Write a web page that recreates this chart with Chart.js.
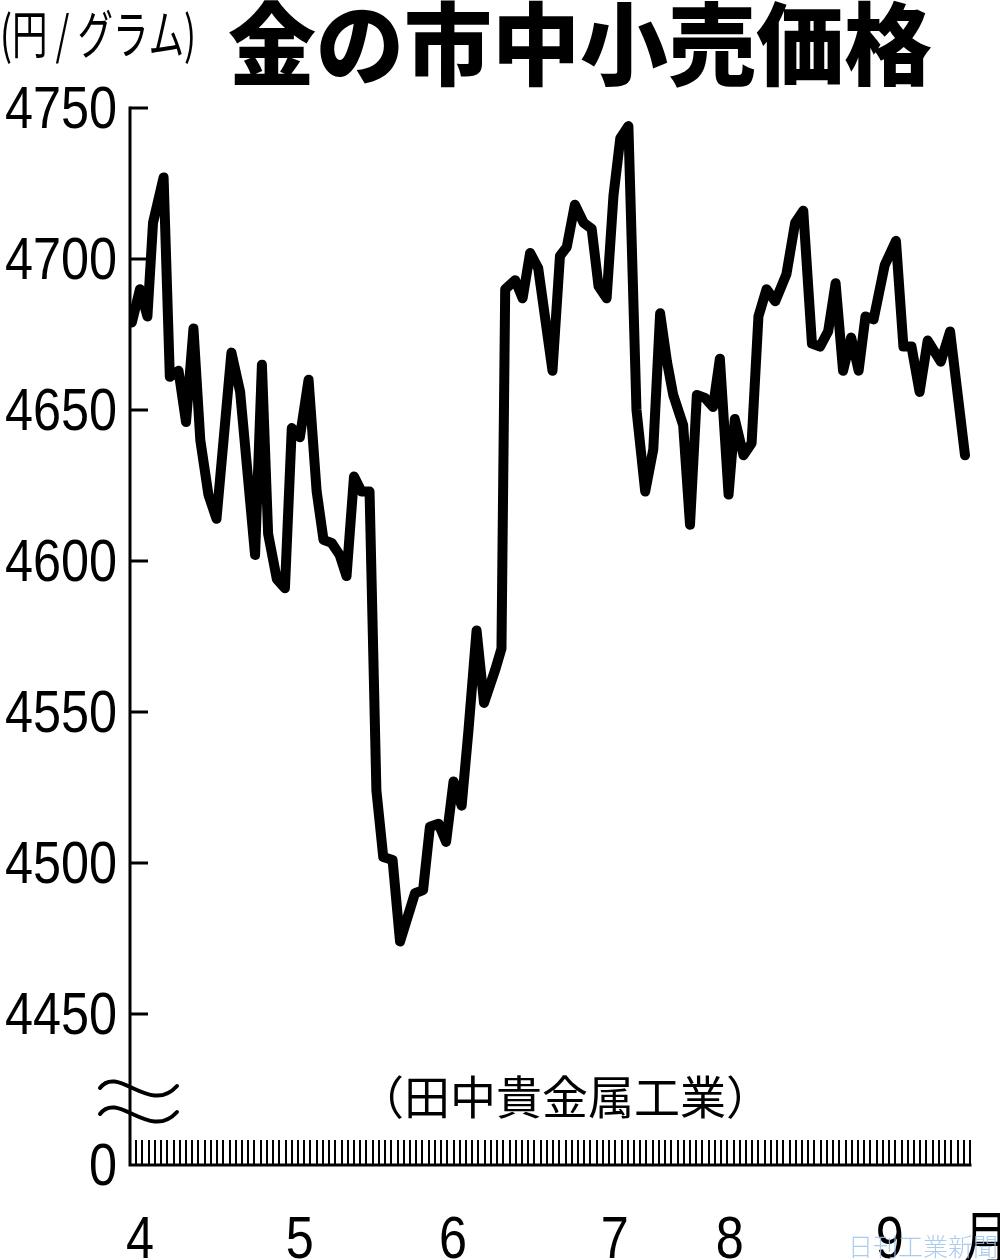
<!DOCTYPE html>
<html><head><meta charset="utf-8">
<script src="https://cdn.jsdelivr.net/npm/chart.js@4/dist/chart.umd.min.js"></script>
<style>html,body{margin:0;padding:0;background:#fff;}#wrap{width:1000px;height:1260px;position:relative;}</style>
</head><body><div id="wrap"><canvas id="c" width="1000" height="1260"></canvas></div>
<script>
// ---- data (x = trading-day position from 1 April, y = yen per gram) ----
const tradingDays = [0.3,1.6,2.8,3.7,5.4,6.4,7.8,9.0,10.2,11.3,12.6,13.9,16.3,17.7,20.1,21.2,22.2,23.6,24.9,26.0,
  27.3,28.7,30.0,31.1,32.4,33.7,34.8,36.0,37.2,38.5,39.6,40.7,42.2,43.4,45.8,47.1,48.2,49.6,50.8,52.0,
  53.3,54.4,55.7,56.9,58.7,59.7,60.3,61.9,63.1,64.3,65.6,67.9,69.1,70.2,71.5,72.9,74.2,75.3,76.6,77.7,
  78.8,80.1,81.4,82.8,84.1,85.2,86.3,87.3,88.9,90.0,91.1,92.4,93.7,94.8,96.2,97.2,98.6,99.9,101.0,102.3,
  103.7,105.5,106.9,108.2,109.6,110.9,112.2,113.4,114.6,115.9,117.1,118.2,119.5,121.3,123.1,124.3,125.6,126.9,128.2,130.3,
  131.8,134.2];
const prices = [4679,4690,4681,4712,4727,4661,4663,4646,4677,4640,4622,4614,4669,4656,4602,4665,4609,4594,4591,4644,
  4641,4660,4623,4607,4606,4602,4595,4628,4623,4623,4524,4502,4501,4474,4490,4491,4512,4513,4507,4527,
  4519,4544,4577,4553,4564,4571,4690,4693,4687,4702,4697,4663,4701,4704,4718,4712,4710,4691,4687,4721,
  4740,4744,4650,4623,4637,4682,4666,4655,4645,4612,4655,4654,4651,4667,4622,4647,4635,4639,4681,4690,
  4686,4695,4712,4716,4672,4671,4676,4692,4663,4674,4663,4681,4680,4698,4706,4671,4671,4656,4673,4666,
  4676,4635];
const yTickValues = [4400,4450,4500,4550,4600,4650,4700,4750];
const yTickLabels = ['0','4450','4500','4550','4600','4650','4700','4750'];
const monthPositions = [1.6,27.3,51.9,77.9,96.4,122.1];
const monthLabels = ['4','5','6','7','8','9'];
const monthUnit = '月';
const dayTickCount = 135;
const titleText = '金の市中小売価格';
const unitText = '(円 / グラム)';
const sourceText = '（田中貴金属工業）';
const creditText = '日刊工業新聞';

const NUM_FONT = '"Liberation Sans", Arial, sans-serif';
const JP_FONT = '"Noto Sans CJK JP", "Noto Sans CJK SC", sans-serif';

function drawText(ctx, text, x, y, font, align, baseline, sx, color){
  ctx.save();
  ctx.font = font; ctx.fillStyle = color || '#000';
  ctx.textAlign = align; ctx.textBaseline = baseline;
  ctx.translate(x, y); ctx.scale(sx, 1);
  ctx.fillText(text, 0, 0);
  ctx.restore();
}
function drawFitText(ctx, text, left, width, y, font, baseline, color){
  ctx.save();
  ctx.font = font;
  const w = ctx.measureText(text).width;
  const sx = width / w;
  ctx.fillStyle = color || '#000'; ctx.textAlign = 'left'; ctx.textBaseline = baseline;
  ctx.translate(left, y); ctx.scale(sx, 1);
  ctx.fillText(text, 0, 0);
  ctx.restore();
}

const axesPlugin = {
  id: 'axesPlugin',
  beforeDatasetsDraw(chart){
    const ctx = chart.ctx, xs = chart.scales.x, ys = chart.scales.y;
    const left = xs.getPixelForValue(0), right = xs.getPixelForValue(dayTickCount);
    const top = ys.getPixelForValue(yTickValues[yTickValues.length-1]);
    const bottom = ys.getPixelForValue(yTickValues[0]);
    ctx.save();
    ctx.strokeStyle = '#000';
    ctx.lineWidth = 3; ctx.lineCap = 'square';
    ctx.beginPath(); ctx.moveTo(left, top); ctx.lineTo(left, bottom); ctx.lineTo(right, bottom); ctx.stroke();
    ctx.lineCap = 'butt';
    ctx.beginPath();
    for (let i = 1; i < yTickValues.length; i++){
      const y = ys.getPixelForValue(yTickValues[i]);
      ctx.moveTo(left, y); ctx.lineTo(left + 18, y);
    }
    ctx.stroke();
    ctx.lineWidth = 2;
    ctx.beginPath();
    for (let d = 1; d <= dayTickCount; d++){
      const x = Math.round(xs.getPixelForValue(d));
      ctx.moveTo(x, bottom); ctx.lineTo(x, bottom - 25);
    }
    ctx.stroke();
    ctx.lineWidth = 4; ctx.lineCap = 'round';
    [0, 26].forEach(off => {
      ctx.beginPath();
      ctx.moveTo(left - 30, 1088 + off);
      ctx.bezierCurveTo(left - 12, 1064 + off, left + 20, 1116 + off, left + 47, 1086 + off);
      ctx.stroke();
    });
    ctx.restore();
  },
  afterDraw(chart){
    const ctx = chart.ctx, xs = chart.scales.x, ys = chart.scales.y;
    const left = xs.getPixelForValue(0);
    yTickValues.forEach((v, i) => {
      const y = ys.getPixelForValue(v);
      drawText(ctx, yTickLabels[i], left - 13, y + 20, '60px ' + NUM_FONT, 'right', 'alphabetic', 0.84);
    });
    monthPositions.forEach((d, i) => {
      drawText(ctx, monthLabels[i], xs.getPixelForValue(d), 1258, '60px ' + NUM_FONT, 'center', 'alphabetic', 0.84);
    });
    drawText(ctx, monthUnit, 963, 1237, '58px ' + JP_FONT, 'left', 'middle', 0.8);
    drawFitText(ctx, titleText, 228, 704, 44, '900 90px ' + JP_FONT, 'middle');
    drawFitText(ctx, unitText, 0, 196, 34, '52px ' + JP_FONT, 'middle');
    drawText(ctx, sourceText, 565, 1097, '46px ' + JP_FONT, 'center', 'middle', 1);
    ctx.save(); ctx.globalAlpha = 0.85;
    drawText(ctx, creditText, 848, 1246, '300 25px ' + JP_FONT, 'left', 'middle', 1, '#9dc3ea');
    ctx.restore();
  }
};

new Chart(document.getElementById('c'), {
  type: 'line',
  data: { datasets: [{
    data: tradingDays.map((d, i) => ({x: d, y: prices[i]})),
    borderColor: '#000', borderWidth: 10, pointRadius: 0, tension: 0,
    borderJoinStyle: 'round', borderCapStyle: 'round', fill: false
  }]},
  options: {
    responsive: false, animation: false, devicePixelRatio: 1,
    layout: { padding: { left: 130, right: 30, top: 108, bottom: 95 } },
    plugins: { legend: { display: false }, tooltip: { enabled: false }, title: { display: false } },
    scales: {
      x: { type: 'linear', min: 0, max: dayTickCount, display: false },
      y: { type: 'linear', min: yTickValues[0], max: yTickValues[yTickValues.length-1], display: false }
    }
  },
  plugins: [axesPlugin]
});
</script></body></html>
